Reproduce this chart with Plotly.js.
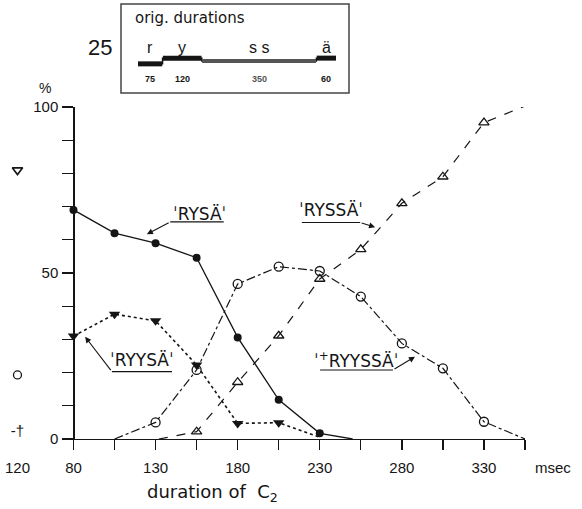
<!DOCTYPE html>
<html><head><meta charset="utf-8">
<script src="https://cdn.plot.ly/plotly-3.0.1.min.js"></script>
<style>html,body{margin:0;padding:0;background:#fff}</style>
</head><body><div id="chart" style="width:582px;height:509px"></div>
<script>
// ---- data ----
const xTicks = [80,105,130,155,180,205,230,255,280,305,330,355];
const xTickText = ['80','','130','','180','','230','','280','','330',''];
const yTicks = [0,10,20,30,40,50,60,70,80,90,100];
const yTickText = ['0','','','','','50','','','','','100'];

// 'RYSÄ' (filled circles, solid)
const rysaX = [80,105,130,155,180,205,230];
const rysa  = [69,62,59,54.6,30.6,11.8,1.7];
const rysaEndX = 250, rysaEnd = 0;
// 'RYYSÄ' (filled triangles, dotted)
const ryysaX = [80,105,130,155,180,205];
const ryysa  = [31,37.6,35.6,22.3,4.7,4.9];
const ryysaEndX = 230, ryysaEnd = 0.5;
// '+RYYSSÄ' (open circles, dash-dot)
const ryyssaX = [130,155,180,205,230,255,280,305,330];
const ryyssa  = [5,20.8,46.7,51.9,50.6,42.9,28.8,21.3,5.2];
const ryyssaStartX = 105, ryyssaStart = 0, ryyssaEndX = 355, ryyssaEnd = 0;
// 'RYSSÄ' (open triangles, dashed)
const ryssaX = [155,180,205,230,255,280,305,330,355];
const ryssa  = [2.2,17.1,31.1,48.2,57.1,71,79,95.3,100.3];
const ryssaStartX = 132, ryssaStart = 0;
// original stimulus (120 ms) responses shown at left
const origX = [120];
const origRyssa = [81];
const origRyyssa = [19.3];
const origRysa = [2.1];
// inset: original durations
const segNames = ['r','y','s s','ä'];
const segDur = [75,120,350,60];
const segLevel = [5.9,7.5,6.7,7.5];

// ---- build ----
const K = '#151515';
const F = 'Liberation Sans, Arial, sans-serif';
const traces = [];
traces.push({x:[...rysaX, rysaEndX], y:[...rysa, rysaEnd], mode:'lines', line:{color:K,width:1.3}, cliponaxis:false});
traces.push({x:rysaX, y:rysa, mode:'markers', marker:{symbol:'circle',size:8,color:K}, cliponaxis:false});
traces.push({x:[...ryysaX, ryysaEndX], y:[...ryysa, ryysaEnd], mode:'lines', line:{color:K,width:1.6,dash:'dot'}, cliponaxis:false});
traces.push({x:ryysaX, y:ryysa, mode:'markers', marker:{symbol:'triangle-down',size:10,color:K}, cliponaxis:false});
traces.push({x:[ryyssaStartX, ...ryyssaX, ryyssaEndX], y:[ryyssaStart, ...ryyssa, ryyssaEnd], mode:'lines', line:{color:K,width:1.2,dash:'dashdot'}, cliponaxis:false});
traces.push({x:ryyssaX, y:ryyssa, mode:'markers', marker:{symbol:'circle-open',size:9,color:K,line:{width:1.3,color:K}}, cliponaxis:false});
traces.push({x:[ryssaStartX, ...ryssaX], y:[ryssaStart, ...ryssa], mode:'lines', line:{color:K,width:1.2,dash:'dash'}, cliponaxis:false});
traces.push({x:ryssaX, y:ryssa, mode:'markers', marker:{symbol:'triangle-up-open',size:9,color:K,line:{width:1.3,color:K}}, cliponaxis:false});
// left column (orig 120)
traces.push({x:origX, y:origRyssa, xaxis:'x2', yaxis:'y', mode:'markers', marker:{symbol:'triangle-down-open',size:9,color:K,line:{width:1.6,color:K}}, cliponaxis:false});
traces.push({x:origX, y:origRyyssa, xaxis:'x2', yaxis:'y', mode:'markers', marker:{symbol:'circle-open',size:8,color:K,line:{width:1.3,color:K}}, cliponaxis:false});
traces.push({x:origX, y:origRysa, xaxis:'x2', yaxis:'y', mode:'text', text:['-†'], textfont:{family:F,size:15,color:K}, cliponaxis:false});

// inset segments
const starts = []; let acc = 0;
segDur.forEach(d => { starts.push(acc); acc += d; });
const total = acc;
const stepX = [], stepY = [];
segDur.forEach((d,i) => { stepX.push(starts[i], starts[i]+d); stepY.push(segLevel[i], segLevel[i]); });
traces.push({x:stepX, y:stepY, xaxis:'x3', yaxis:'y3', mode:'lines', line:{color:K,width:1.5}});
segDur.forEach((d,i) => {
  const gray = (i === 2);
  traces.push({x:[starts[i]+(i?1:0), starts[i]+d-(i===3?0:1)], y:[segLevel[i], segLevel[i]], xaxis:'x3', yaxis:'y3', mode:'lines',
    line:{color: gray ? '#555' : K, width: gray ? 4 : 5}});
});

// ---- layout ----
const px = v => (v - 5) / 520;      // paper x from pixel
const py = v => (439 - v) / 435;    // paper y from pixel
const ann = [];
segNames.forEach((n,i) => {
  ann.push({xref:'x3', yref:'y3', x:starts[i]+segDur[i]/2, y:10.6, xanchor:'center', yanchor:'middle', text:n, showarrow:false, font:{family:F,size:16,color:K}});
  ann.push({xref:'x3', yref:'y3', x:starts[i]+segDur[i]/2, y:1.7, xanchor:'center', yanchor:'middle', text:'<b>'+segDur[i]+'</b>', showarrow:false, font:{family:F,size:9,color: i===2?'#555':K}});
});
const P = (x,y,text,font,xa) => ({xref:'paper', yref:'paper', x:px(x), y:py(y), xanchor:xa||'center', yanchor:'middle', text:text, showarrow:false, font:font});
ann.push(P(133,18,'orig. durations',{family:'DejaVu Sans, sans-serif',size:15,color:K},'left'));
ann.push(P(100,47,'25',{family:F,size:22,color:K}));
ann.push(P(45,88,'%',{family:F,size:14,color:K}));
ann.push(P(533,467,'msec',{family:F,size:15,color:K},'left'));
ann.push(P(212,493,'duration of  C<sub>2</sub>',{family:'DejaVu Sans, sans-serif',size:18,color:K}));

const LF = {family:'DejaVu Sans, sans-serif', size:17, color:K};
const L = (x,y,text) => ({xref:'x', yref:'y', x:x, y:y, xanchor:'center', yanchor:'middle', text:text, showarrow:false, font:LF});
// series labels
ann.push(L(156.5,67.9,'ˈRYSÄˈ'));
ann.push(L(237,68.9,'ˈRYSSÄˈ'));
ann.push(L(122,23.9,'ˈRYYSÄˈ'));
ann.push(L(252,23.9,'ˈ<sup>+</sup>RYYSSÄˈ'));
// leader arrows
const arr = (x0,y0,x1,y1) => ({xref:'x', yref:'y', axref:'x', ayref:'y', ax:x0, ay:y0, x:x1, y:y1, text:'', showarrow:true, arrowhead:2, arrowsize:1.1, arrowwidth:1.1, arrowcolor:K});
ann.push(arr(138.9,65.4,124.7,61.7));
ann.push(arr(254.6,65.2,263.7,63.8));
ann.push(arr(103.4,20.3,87.1,30.8));
ann.push(arr(274.6,20.8,288.0,24.8));

const ul = (x0,x1,y) => ({type:'line', xref:'x', yref:'y', x0:x0, x1:x1, y0:y, y1:y, line:{color:K,width:1.1}});
const shapes = [
  ul(138.9,171.5,65.4), ul(219.1,254.6,65.2), ul(103.4,140,20.3), ul(230.2,274.6,20.8),
  {type:'rect', xref:'paper', yref:'paper', x0:px(121), x1:px(349), y0:py(93), y1:py(4), line:{color:'#444',width:1.5}}
];

const layout = {
  width:582, height:509, margin:{l:5,r:57,t:4,b:70},
  paper_bgcolor:'#fff', plot_bgcolor:'rgba(0,0,0,0)', showlegend:false,
  font:{family:F, color:K},
  xaxis:{domain:[0.1096,1], range:[73,355], anchor:'y', showline:true, linecolor:K, linewidth:1.3,
    ticks:'outside', ticklen:10, tickwidth:1.3, tickcolor:K, tickvals:xTicks, ticktext:xTickText, ticklabelstandoff:5,
    showgrid:false, zeroline:false, tickfont:{family:F,size:15,color:K}},
  yaxis:{domain:[0,0.7632], range:[0,100], anchor:'free', position:0.1313, showline:true, linecolor:K, linewidth:1.3,
    ticks:'outside', ticklen:11, tickwidth:1.3, tickcolor:K, tickvals:yTicks, ticktext:yTickText, ticklabelstandoff:1,
    showgrid:false, zeroline:false, tickfont:{family:F,size:15,color:K}},
  xaxis2:{domain:[0.004,0.044], range:[119,121], anchor:'y', showline:false, showgrid:false, zeroline:false,
    ticks:'outside', ticklen:10, tickcolor:'rgba(0,0,0,0)', tickvals:origX, ticktext:['120'], ticklabelstandoff:5, tickfont:{family:F,size:15,color:K}},
  xaxis3:{domain:[0.2558,0.6365], range:[0,total], anchor:'y3', visible:false},
  yaxis3:{domain:[(439-85)/435,(439-42)/435], range:[0,12], anchor:'x3', visible:false},
  annotations:ann, shapes:shapes
};
Plotly.newPlot('chart', traces, layout, {staticPlot:true, displayModeBar:false});
</script></body></html>
